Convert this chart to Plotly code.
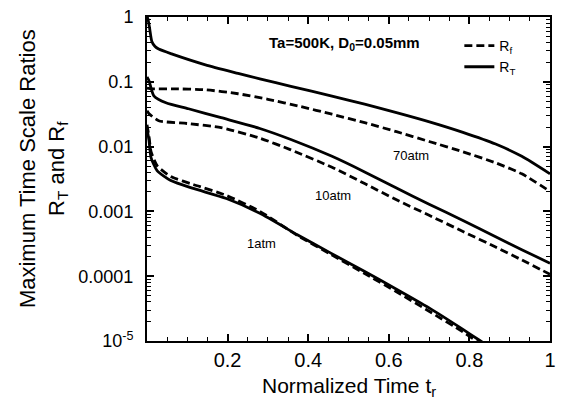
import plotly.graph_objects as go

FONT = "Liberation Sans, Arial, Helvetica, sans-serif"

# ---- data ----
t_RT_70 = [0, 0.002, 0.006, 0.012, 0.02, 0.029, 0.061, 0.145, 0.226, 0.28, 0.357, 0.459, 0.54, 0.619, 0.705, 0.784, 0.865, 0.93, 1.0]
RT_70 = [1.0, 0.95, 0.70, 0.42, 0.35, 0.32, 0.27, 0.183, 0.1349, 0.1109, 0.0851, 0.0603, 0.0452, 0.0335, 0.0237, 0.0166, 0.01096, 0.00708, 0.0038]

t_Rf_70 = [0, 0.012, 0.06, 0.145, 0.226, 0.30, 0.38, 0.459, 0.54, 0.619, 0.70, 0.784, 0.865, 0.93, 1.0]
Rf_70 = [0.080, 0.078, 0.078, 0.0753, 0.0654, 0.0537, 0.0417, 0.0316, 0.0234, 0.0170, 0.0120, 0.00832, 0.00562, 0.0038, 0.00204]

t_RT_10 = [0, 0.005, 0.017, 0.047, 0.103, 0.184, 0.28, 0.357, 0.459, 0.54, 0.619, 0.70, 0.784, 0.865, 0.93, 1.0]
RT_10 = [0.119, 0.1036, 0.0609, 0.0475, 0.0384, 0.0279, 0.01905, 0.01288, 0.00708, 0.00407, 0.00229, 0.00129, 0.000724, 0.000407, 0.000257, 0.000158]

t_Rf_10 = [0, 0.005, 0.029, 0.103, 0.184, 0.28, 0.357, 0.459, 0.54, 0.619, 0.70, 0.784, 0.865, 0.93, 1.0]
Rf_10 = [0.0358, 0.0322, 0.0251, 0.0226, 0.0196, 0.01349, 0.00891, 0.00479, 0.00269, 0.00151, 0.000871, 0.00049, 0.000282, 0.000178, 0.000107]

t_RT_1 = [0, 0.005, 0.01, 0.025, 0.059, 0.115, 0.197, 0.28, 0.373, 0.455, 0.538, 0.619, 0.70, 0.784, 0.823, 0.85]
RT_1 = [0.0189, 0.0124, 0.00678, 0.00427, 0.0030, 0.00226, 0.00158, 0.000933, 0.000437, 0.000229, 0.00012, 6.31e-5, 3.24e-5, 1.51e-5, 1.047e-5, 8.1e-6]

t_Rf_1 = [0, 0.005, 0.01, 0.025, 0.059, 0.115, 0.197, 0.28, 0.373, 0.455, 0.538, 0.619, 0.70, 0.784, 0.82, 0.85]
Rf_1 = [0.0218, 0.01426, 0.00838, 0.0051, 0.00345, 0.0026, 0.00176, 0.001, 0.000427, 0.000219, 0.000112, 5.75e-5, 2.88e-5, 1.38e-5, 9.8e-6, 7.4e-6]

x_tick_vals = [0.2, 0.4, 0.6, 0.8, 1.0]
x_tick_text = ["0.2", "0.4", "0.6", "0.8", "1"]
y_tick_vals = [1, 0.1, 0.01, 0.001, 0.0001, 0.00001]
y_tick_text = ["1", "0.1", "0.01", "0.001", "0.0001", "10<sup>-5</sup>"]
pressure_labels = ["70atm", "10atm", "1atm"]

# ---- figure ----
DASH = "8px,4px"
LW = 2.8
fig = go.Figure()

def add(t, y, dashed, name=None, show=False):
    fig.add_trace(go.Scatter(
        x=t, y=y, mode="lines", name=name, showlegend=show,
        line=dict(color="black", width=LW, dash=DASH if dashed else "solid",
                  shape="spline", smoothing=0.6),
    ))

add(t_Rf_70, Rf_70, True, "R<sub>f</sub>", True)
add(t_RT_70, RT_70, False, "R<sub>T</sub>", True)
add(t_Rf_10, Rf_10, True)
add(t_RT_10, RT_10, False)
add(t_Rf_1, Rf_1, True)
add(t_RT_1, RT_1, False)

minor_y = [k * 10.0 ** n for n in range(-5, 0) for k in range(2, 10)]
minor_x = [i * 0.05 for i in range(1, 20)]

W, H = 563, 404
L, R, T, B = 147, 7, 16, 63
pw, ph = W - L - R, H - T - B

def px(xp):
    return (xp - L) / pw

def py(yp):
    return 1 - (yp - T) / ph

def ann(text, xp, yp, size, angle=0, yanchor="middle"):
    return dict(text=text, x=px(xp), y=py(yp), xref="paper", yref="paper",
                xanchor="center", yanchor=yanchor, showarrow=False, textangle=angle,
                font=dict(family=FONT, size=size, color="black"))

annotations = [
    ann("<b>Ta=500K, D<sub>0</sub>=0.05mm</b>", 347, 43, 15),
    ann(pressure_labels[0], 415, 155, 13),
    ann(pressure_labels[1], 336, 195, 13),
    ann(pressure_labels[2], 263, 243, 13),
    ann("Maximum Time Scale Ratios<br>R<sub>T</sub> and R<sub>f</sub>", 41, 168, 22, angle=-90),
    ann("Normalized Time t<sub>r</sub>", 352, 372, 21, yanchor="top"),
]

fig.update_layout(
    width=W, height=H,
    margin=dict(l=L, r=R, t=T, b=B, pad=0),
    paper_bgcolor="white", plot_bgcolor="white",
    font=dict(family=FONT, color="black"),
    annotations=annotations,
    legend=dict(x=px(464), y=py(29), xanchor="left", yanchor="top",
                bgcolor="rgba(0,0,0,0)", font=dict(family=FONT, size=14, color="black"),
                itemwidth=30, tracegroupgap=0),
)
fig.update_xaxes(
    range=[0, 1], showgrid=False, zeroline=False,
    showline=True, linecolor="black", linewidth=2, mirror="ticks",
    ticks="inside", ticklen=7, tickwidth=1.5, tickcolor="black",
    tickvals=x_tick_vals, ticktext=x_tick_text,
    tickfont=dict(family=FONT, size=20, color="black"),
    minor=dict(tickvals=minor_x, ticks="inside", ticklen=4, tickwidth=1, tickcolor="black"),
)
fig.update_yaxes(
    type="log", range=[-5, 0], showgrid=False, zeroline=False,
    showline=True, linecolor="black", linewidth=2, mirror="ticks",
    ticks="inside", ticklen=7, tickwidth=1.5, tickcolor="black",
    tickvals=y_tick_vals, ticktext=y_tick_text, ticklabelstandoff=8,
    tickfont=dict(family=FONT, size=18, color="black"),
    minor=dict(tickvals=minor_y, ticks="inside", ticklen=4, tickwidth=1, tickcolor="black"),
)

fig.write_html(
    "out.html",
    config={"displayModeBar": False},
    post_script="document.body.style.margin='0px';document.body.style.overflow='hidden';",
)
